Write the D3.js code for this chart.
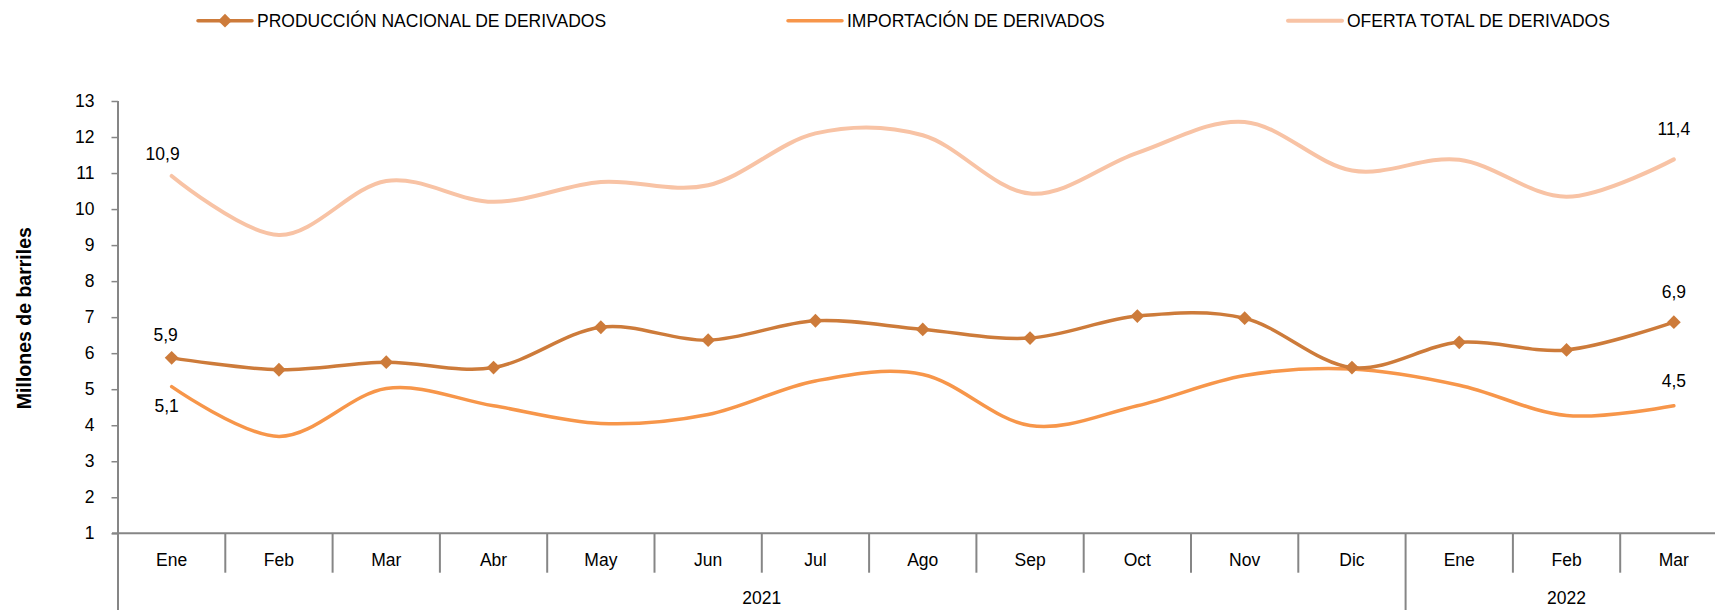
<!DOCTYPE html>
<html>
<head>
<meta charset="utf-8">
<script src="https://d3js.org/d3.v7.min.js"></script>
<style>
    body { margin: 0; background: #ffffff; }
    text { font-family: "Liberation Sans", Arial, sans-serif; fill: #000000; }
</style>
</head>
<body>
<div id="chart"></div>
<script>
// months shown on the category axis, and the year each one belongs to
const months = ["Ene", "Feb", "Mar", "Abr", "May", "Jun", "Jul", "Ago", "Sep", "Oct", "Nov", "Dic", "Ene", "Feb", "Mar"];
const monthYears = ["2021", "2021", "2021", "2021", "2021", "2021", "2021", "2021", "2021", "2021", "2021", "2021", "2022", "2022", "2022"];

// millones de barriles
const produccion = [5.87, 5.54, 5.75, 5.60, 6.72, 6.36, 6.90, 6.66, 6.42, 7.03, 6.97, 5.60, 6.30, 6.09, 6.86];
const importacion = [5.07, 3.69, 5.02, 4.54, 4.05, 4.30, 5.23, 5.41, 3.99, 4.54, 5.38, 5.56, 5.11, 4.27, 4.54];
const oferta = [10.92, 9.28, 10.78, 10.20, 10.75, 10.66, 12.10, 12.05, 10.43, 11.56, 12.42, 11.07, 11.37, 10.34, 11.38];

const seriesNames = ["PRODUCCIÓN NACIONAL DE DERIVADOS", "IMPORTACIÓN DE DERIVADOS", "OFERTA TOTAL DE DERIVADOS"];
const yTicks = [1, 2, 3, 4, 5, 6, 7, 8, 9, 10, 11, 12, 13];
const yTitle = "Millones de barriles";

function init() {
    const w = 1715;
    const h = 610;
    const axisColor = "#868686";
    const fontSize = "17.5px";

    const fmt = d3.formatLocale({ decimal: ",", thousands: ".", grouping: [3], currency: ["", ""] }).format(".1f");

    const series = [
        { name: seriesNames[0], values: produccion, color: "#CD7B3A", marker: true, width: 3.5 },
        { name: seriesNames[1], values: importacion, color: "#F7964A", marker: false, width: 3.5 },
        { name: seriesNames[2], values: oferta, color: "#F8C3A5", marker: false, width: 4 }
    ];

    const svg = d3.select("#chart")
        .append("svg")
        .attr("width", w)
        .attr("height", h);

    // band per month; the last band runs past the right edge like the original
    const bandW = 107.3;
    const x = d3.scaleBand()
        .domain(d3.range(months.length))
        .range([118, 118 + bandW * months.length]);

    const y = d3.scaleLinear()
        .domain([1, 13])
        .range([533.3, 101]);

    const cx = i => x(i) + x.bandwidth() / 2;

    // y axis
    const yAxis = svg.append("g")
        .attr("transform", "translate(118,0)")
        .call(d3.axisLeft(y).tickValues(yTicks).tickSize(6.5).tickPadding(17));
    yAxis.select(".domain").remove();
    yAxis.selectAll(".tick line").attr("stroke", axisColor).attr("stroke-width", 1.5);
    yAxis.selectAll(".tick text")
        .style("font-size", fontSize)
        .style("font-family", "'Liberation Sans', Arial, sans-serif")
        .attr("fill", "#000");

    svg.append("line")
        .attr("x1", 118).attr("x2", 118)
        .attr("y1", y(13)).attr("y2", h)
        .attr("stroke", axisColor).attr("stroke-width", 2);

    svg.append("text")
        .attr("transform", "translate(31," + (y(7) + 1) + ") rotate(-90)")
        .attr("text-anchor", "middle")
        .style("font-size", "19.5px")
        .style("font-weight", "bold")
        .text(yTitle);

    // category axis
    svg.append("line")
        .attr("x1", 112).attr("x2", x.range()[1])
        .attr("y1", y(1)).attr("y2", y(1))
        .attr("stroke", axisColor).attr("stroke-width", 2);

    svg.selectAll(".sep")
        .data(d3.range(1, months.length))
        .enter()
        .append("line")
        .attr("class", "sep")
        .attr("x1", d => x(d)).attr("x2", d => x(d))
        .attr("y1", y(1))
        .attr("y2", d => monthYears[d] !== monthYears[d - 1] ? h : 572.7)
        .attr("stroke", axisColor).attr("stroke-width", 2);

    const xAxis = svg.append("g")
        .attr("transform", "translate(0," + y(1) + ")")
        .call(d3.axisBottom(x).tickFormat(i => months[i]).tickSize(0).tickPadding(20.6));
    xAxis.select(".domain").remove();
    xAxis.selectAll(".tick text")
        .style("font-size", fontSize)
        .style("font-family", "'Liberation Sans', Arial, sans-serif")
        .attr("fill", "#000");

    // year labels centred under their months
    const yearGroups = d3.groups(d3.range(months.length), i => monthYears[i]);
    svg.selectAll(".year")
        .data(yearGroups)
        .enter()
        .append("text")
        .attr("class", "year")
        .attr("x", d => (x(d[1][0]) + x(d[1][d[1].length - 1]) + x.bandwidth()) / 2)
        .attr("y", 598)
        .attr("dy", "0.35em")
        .attr("text-anchor", "middle")
        .style("font-size", fontSize)
        .text(d => d[0]);

    // lines
    const line = d3.line()
        .x((d, i) => cx(i))
        .y(d => y(d))
        .curve(d3.curveCardinal.tension(0));

    const diamond = d3.symbol(d3.symbolSquare, 95);

    series.slice().reverse().forEach(s => {
        svg.append("path")
            .datum(s.values)
            .attr("d", line)
            .attr("fill", "none")
            .attr("stroke", s.color)
            .attr("stroke-width", s.width)
            .attr("stroke-linecap", "round");

        if (s.marker) {
            svg.selectAll(null)
                .data(s.values)
                .enter()
                .append("path")
                .attr("d", diamond)
                .attr("transform", (d, i) => "translate(" + cx(i) + "," + y(d) + ") rotate(45)")
                .attr("fill", s.color);
        }
    });

    // first / last value labels
    const last = months.length - 1;
    const labels = [
        { v: oferta[0], i: 0, dx: -9, dy: -22 },
        { v: produccion[0], i: 0, dx: -6, dy: -23 },
        { v: importacion[0], i: 0, dx: -5, dy: 19 },
        { v: oferta[last], i: last, dx: 0, dy: -30 },
        { v: produccion[last], i: last, dx: 0, dy: -30 },
        { v: importacion[last], i: last, dx: 0, dy: -25 }
    ];
    svg.selectAll(".vlabel")
        .data(labels)
        .enter()
        .append("text")
        .attr("class", "vlabel")
        .attr("x", d => cx(d.i) + d.dx)
        .attr("y", d => y(d.v) + d.dy)
        .attr("dy", "0.35em")
        .attr("text-anchor", "middle")
        .style("font-size", fontSize)
        .text(d => fmt(d.v));

    // legend
    const legendX = [198, 788, 1288];
    const legend = svg.selectAll(".legend")
        .data(series)
        .enter()
        .append("g")
        .attr("class", "legend")
        .attr("transform", (d, i) => "translate(" + legendX[i] + ",20.7)");

    legend.append("line")
        .attr("x1", 0).attr("x2", 54)
        .attr("stroke", d => d.color)
        .attr("stroke-width", d => d.width)
        .attr("stroke-linecap", "round");

    legend.filter(d => d.marker)
        .append("path")
        .attr("d", diamond)
        .attr("transform", "translate(27,0) rotate(45)")
        .attr("fill", d => d.color);

    legend.append("text")
        .attr("x", 59)
        .attr("dy", "0.35em")
        .style("font-size", fontSize)
        .text(d => d.name);
}

window.onload = init;
</script>
</body>
</html>
